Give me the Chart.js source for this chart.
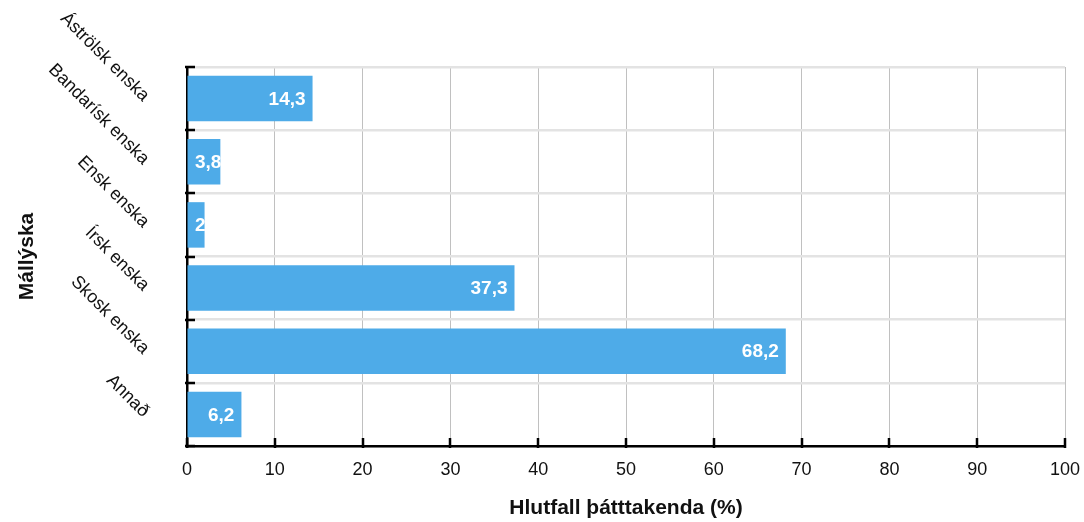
<!DOCTYPE html>
<html lang="is">
<head>
<meta charset="utf-8">
<script src="https://cdn.jsdelivr.net/npm/chart.js@4/dist/chart.umd.min.js"></script>
<style>
  html, body { margin: 0; padding: 0; background: #ffffff; }
  #wrap { width: 1084px; height: 522px; position: relative; }
</style>
</head>
<body>
<div id="wrap"><canvas id="c" width="1084" height="522"></canvas></div>
<script>
// Mállýskur og hlutfall þátttakenda
const categories = ['Áströlsk enska', 'Bandarísk enska', 'Ensk enska', 'Írsk enska', 'Skosk enska', 'Annað'];
const values = [14.3, 3.8, 2, 37.3, 68.2, 6.2];
const xTicks = [0, 10, 20, 30, 40, 50, 60, 70, 80, 90, 100];

const BAR_COLOR = '#4eabe8';
const FONT = 'Arial, "Liberation Sans", Helvetica, sans-serif';

const fmt = v => String(v).replace('.', ',');

// Short tick marks drawn on the inside of both axes
const innerTicks = {
  id: 'innerTicks',
  afterDraw(chart) {
    const ctx = chart.ctx;
    const xs = chart.scales.x, ys = chart.scales.y;
    ctx.save();
    ctx.strokeStyle = '#000';
    ctx.lineWidth = 2.5;
    ctx.beginPath();
    xs.ticks.forEach((t, i) => {
      const px = Math.round(xs.getPixelForTick(i));
      ctx.moveTo(px, ys.bottom + 2);
      ctx.lineTo(px, ys.bottom - 8);
    });
    for (let i = 0; i <= categories.length; i++) {
      const py = Math.round(ys.getPixelForValue(i - 0.5));
      ctx.moveTo(xs.left - 2, py);
      ctx.lineTo(xs.left + 8, py);
    }
    ctx.stroke();
    ctx.restore();
  }
};

// White value labels at the inner end of each bar
const valueLabels = {
  id: 'valueLabels',
  afterDatasetsDraw(chart) {
    const ctx = chart.ctx;
    const meta = chart.getDatasetMeta(0);
    const base = chart.scales.x.getPixelForValue(0);
    ctx.save();
    ctx.font = 'bold 19px ' + FONT;
    ctx.fillStyle = '#ffffff';
    ctx.textBaseline = 'middle';
    ctx.textAlign = 'left';
    meta.data.forEach((bar, i) => {
      const txt = fmt(values[i]);
      const w = ctx.measureText(txt).width;
      let x = bar.x - 7 - w;
      if (x < base + 8) x = base + 8;
      ctx.fillText(txt, x, bar.y + 1);
    });
    ctx.restore();
  }
};

new Chart(document.getElementById('c'), {
  type: 'bar',
  data: {
    labels: categories,
    datasets: [{
      data: values,
      backgroundColor: BAR_COLOR,
      borderWidth: 0,
      categoryPercentage: 0.8,
      barPercentage: 0.9
    }]
  },
  plugins: [innerTicks, valueLabels],
  options: {
    indexAxis: 'y',
    responsive: false,
    animation: false,
    devicePixelRatio: 1,
    layout: { padding: { top: 67, right: 19, bottom: 0, left: 11 } },
    plugins: {
      legend: { display: false },
      tooltip: { enabled: false },
      title: { display: false }
    },
    scales: {
      x: {
        type: 'linear',
        min: 0,
        max: 100,
        afterBuildTicks(scale) { scale.ticks = xTicks.map(v => ({ value: v })); },
        afterFit(scale) { scale.height = 76; scale.paddingLeft = 0; scale.paddingRight = 0; },
        border: { display: true, color: '#000', width: 2.5 },
        grid: { color: '#c0c0c0', lineWidth: 1, drawTicks: false },
        ticks: {
          color: '#111',
          padding: 13,
          font: { family: FONT, size: 18 },
          callback: v => String(v)
        },
        title: {
          display: true,
          text: 'Hlutfall þátttakenda (%)',
          color: '#111',
          font: { family: FONT, size: 21, weight: 'bold' },
          padding: { top: 4, bottom: 1 }
        }
      },
      y: {
        type: 'category',
        offset: true,
        afterFit(scale) { scale.width = 176; scale.paddingTop = 0; scale.paddingBottom = 0; },
        border: { display: true, color: '#000', width: 2.5 },
        grid: { color: '#e3e3e3', lineWidth: 2.5, offset: true, drawTicks: false },
        ticks: {
          color: '#111',
          padding: 41,
          minRotation: -45,
          maxRotation: -45,
          font: { family: FONT, size: 18 }
        },
        title: {
          display: true,
          text: 'Mállýska',
          color: '#111',
          font: { family: FONT, size: 21, weight: 'bold' },
          padding: { top: 4, bottom: 4 }
        }
      }
    }
  }
});
</script>
</body>
</html>
